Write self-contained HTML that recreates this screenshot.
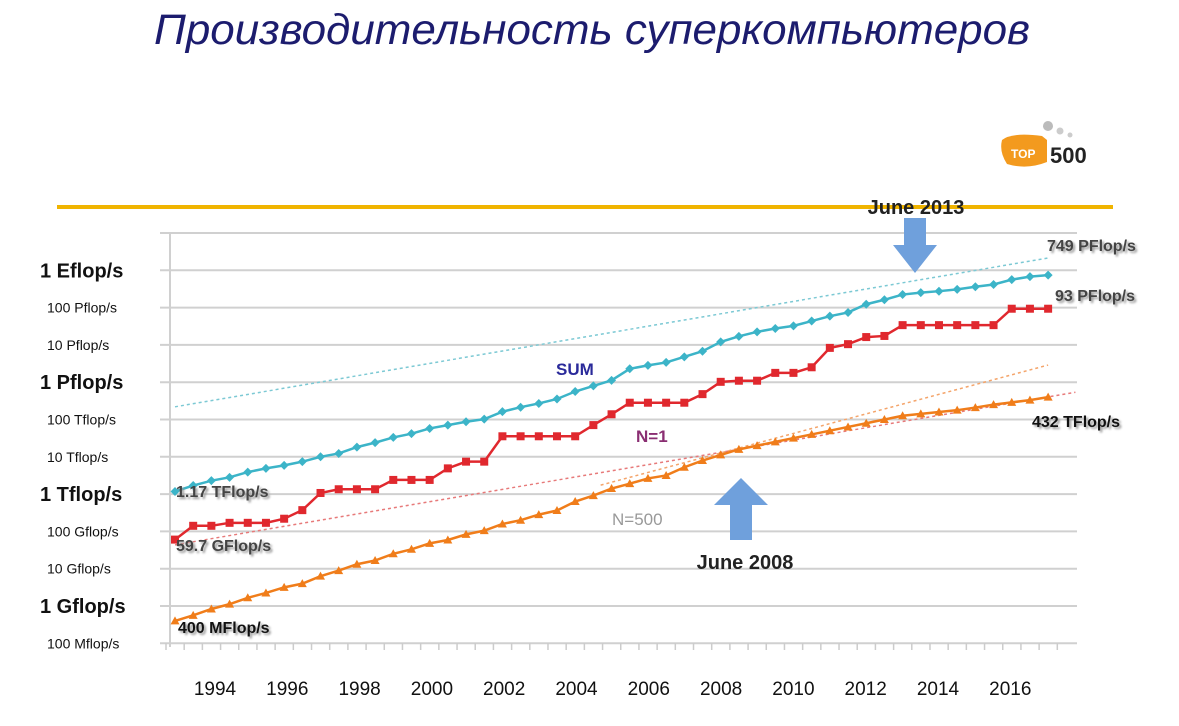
<!DOCTYPE html>
<html><head><meta charset="utf-8"><style>
body{margin:0;background:#fff;width:1179px;height:721px;overflow:hidden;font-family:"Liberation Sans","DejaVu Sans",sans-serif}
svg text{font-family:"Liberation Sans","DejaVu Sans",sans-serif}
</style></head><body>
<svg id="chart" width="1179" height="721" viewBox="0 0 1179 721">
<text x="592" y="44" text-anchor="middle" font-size="43" font-style="italic" fill="#1c1c6e" textLength="876" lengthAdjust="spacingAndGlyphs">Производительность суперкомпьютеров</text>
<g>
<path d="M1002 140 q10-8 40 -4 l5 4 l0 22 q-20 8 -40 2 q-8 -12 -5 -24z" fill="#f39a1e"/>
<circle cx="1048" cy="126" r="5" fill="#bbb"/><circle cx="1060" cy="131" r="3.5" fill="#ccc"/><circle cx="1070" cy="135" r="2.5" fill="#ccc"/>
<text x="1011" y="158" font-size="12" font-weight="bold" fill="#fff">TOP</text>
<text x="1050" y="163" font-size="22" font-weight="bold" fill="#222">500</text>
</g>
<line x1="57" y1="207" x2="1113" y2="207" stroke="#f0b400" stroke-width="4"/>
<g id="grid"></g><g id="yl"></g><g id="xl"></g><g id="trend"></g><g id="series"></g>
<text x="556" y="375" font-size="17" font-weight="bold" fill="#2a2a9a">SUM</text>
<text x="636" y="442" font-size="17" font-weight="bold" fill="#8a2e72">N=1</text>
<text x="612" y="525" font-size="17" fill="#999">N=500</text>
<g font-weight="bold" font-size="16" fill="#444" style="text-shadow:2px 2px 2px #999">
<text x="176" y="497">1.17 TFlop/s</text>
<text x="176" y="551">59.7 GFlop/s</text>
<text x="178" y="633" fill="#111">400 MFlop/s</text>
<text x="1047" y="251">749 PFlop/s</text>
<text x="1055" y="301">93 PFlop/s</text>
<text x="1032" y="427" fill="#111">432 TFlop/s</text>
</g>
<g><polygon points="904,218 926,218 926,245 937,245 915,273 893,245 904,245" fill="#6fa0dc"/></g>
<text x="916" y="214" text-anchor="middle" font-size="20" font-weight="bold" fill="#222">June 2013</text>
<g><polygon points="730,540 752,540 752,505 768,505 741,478 714,505 730,505" fill="#6fa0dc"/></g>
<text x="745" y="569" text-anchor="middle" font-size="20" font-weight="bold" fill="#222">June 2008</text>
</svg>
<script>
const sumVals=[12.07,12.23,12.36,12.45,12.59,12.69,12.77,12.87,13.00,13.09,13.26,13.38,13.52,13.62,13.76,13.85,13.94,14.01,14.21,14.33,14.43,14.55,14.75,14.90,15.05,15.36,15.45,15.53,15.68,15.83,16.08,16.23,16.35,16.44,16.51,16.64,16.77,16.87,17.09,17.21,17.35,17.40,17.44,17.49,17.56,17.62,17.75,17.83,17.87];
const n1Vals=[10.78,11.15,11.15,11.23,11.23,11.23,11.34,11.57,12.03,12.13,12.13,12.13,12.38,12.38,12.38,12.69,12.87,12.87,13.55,13.55,13.55,13.55,13.55,13.85,14.14,14.45,14.45,14.45,14.45,14.68,15.01,15.04,15.04,15.25,15.25,15.40,15.92,16.02,16.21,16.24,16.53,16.53,16.53,16.53,16.53,16.53,16.97,16.97,16.97];
const n500Vals=[8.60,8.75,8.92,9.05,9.22,9.35,9.50,9.60,9.80,9.95,10.12,10.22,10.40,10.52,10.68,10.77,10.92,11.02,11.20,11.30,11.45,11.56,11.80,11.96,12.15,12.28,12.42,12.50,12.72,12.90,13.05,13.20,13.30,13.40,13.50,13.60,13.70,13.80,13.90,14.00,14.10,14.15,14.20,14.25,14.32,14.40,14.46,14.52,14.60];
const yTickVals=[18,17,16,15,14,13,12,11,10,9,8];
const yTickLabels=["1 Eflop/s","100 Pflop/s","10 Pflop/s","1 Pflop/s","100 Tflop/s","10 Tflop/s","1 Tflop/s","100 Gflop/s","10 Gflop/s","1 Gflop/s","100 Mflop/s"];
const yTickBig=[true,false,false,true,false,false,true,false,false,true,false];
const xYears=[1994,1996,1998,2000,2002,2004,2006,2008,2010,2012,2014,2016];
const NS="http://www.w3.org/2000/svg";
function Y(v){return 233+(19-v)*37.3;}
function X(i){return 175+i*18.19;}
function XY(yr){return 215+(yr-1994)*36.15;}
function mk(tag,attrs,parent){const e=document.createElementNS(NS,tag);for(const k in attrs)e.setAttribute(k,attrs[k]);parent.appendChild(e);return e;}
const grid=document.getElementById('grid');
for(let v=19;v>=8;v--){const l=mk('line',{x1:160,x2:1077,y1:Y(v),y2:Y(v),stroke:'#d0d0d0','stroke-width':2},grid);

}
const ax=mk('line',{x1:170,x2:170,y1:233,y2:647,stroke:'#d0d0d0','stroke-width':2},grid);


for(let i=0;i<=49;i++){const t=mk('line',{x1:X(i)-9,x2:X(i)-9,y1:643,y2:650,stroke:'#ccc','stroke-width':1.5},grid);

}
const yl=document.getElementById('yl');
yTickVals.forEach((v,k)=>{const big=yTickBig[k];const t=mk('text',{x:big?40:47,y:Y(v)+(big?7:5),'font-size':big?20:14,'font-weight':big?'bold':'normal',fill:'#111'},yl);t.textContent=yTickLabels[k];

});
const xl=document.getElementById('xl');
xYears.forEach(yr=>{const t=mk('text',{x:XY(yr),y:695,'text-anchor':'middle','font-size':19,fill:'#111'},xl);t.textContent=yr;

});
const tr=document.getElementById('trend');
[[0,14.34,48,18.33,'#7cc9d4'],[0,10.64,49.5,14.73,'#e77a7a'],[23.4,12.24,48,15.46,'#f4a46a']].forEach(a=>{const l=mk('line',{x1:X(a[0]),y1:Y(a[1]),x2:X(a[2]),y2:Y(a[3]),stroke:a[4],'stroke-width':1.5,'stroke-dasharray':'3,3'},tr);

});
const sg=document.getElementById('series');
function drawSeries(vals,color,name,shape){const g=mk('g',{},sg);


mk('polyline',{points:vals.map((v,i)=>X(i)+','+Y(v)).join(' '),fill:'none',stroke:color,'stroke-width':2.5},g);
vals.forEach((v,i)=>{const x=X(i),y=Y(v);let m;
if(shape==='sq')m=mk('rect',{x:x-4,y:y-4,width:8,height:8,fill:color},g);
else if(shape==='dia')m=mk('polygon',{points:`${x},${y-4.5} ${x+4.5},${y} ${x},${y+4.5} ${x-4.5},${y}`,fill:color},g);
else m=mk('polygon',{points:`${x},${y-4.5} ${x+4.5},${y+3.5} ${x-4.5},${y+3.5}`,fill:color},g);

});}
drawSeries(sumVals,'#3cb4c8','sum-series','dia');
drawSeries(n1Vals,'#e0282e','n1-series','sq');
drawSeries(n500Vals,'#f07d1a','n500-series','tri');
</script>
</body></html>
